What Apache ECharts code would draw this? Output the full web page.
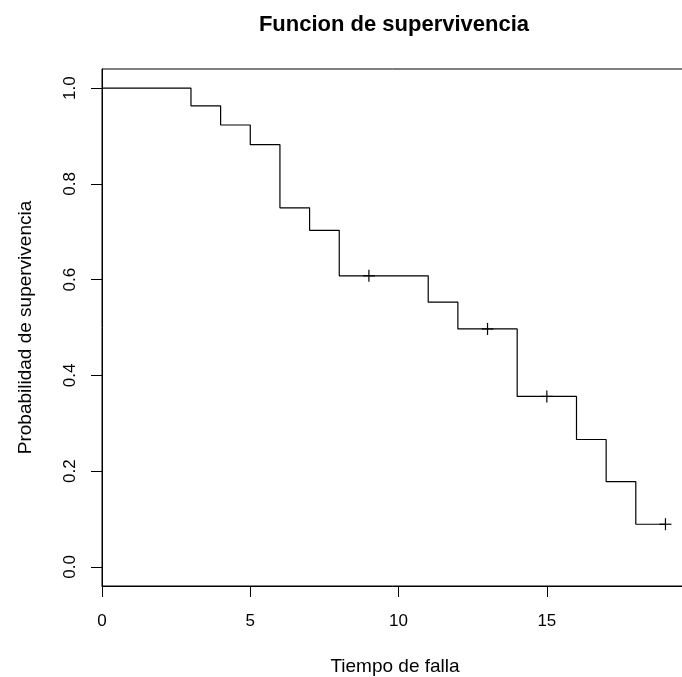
<!DOCTYPE html>
<html>
<head>
<meta charset="utf-8">
<script src="https://cdn.jsdelivr.net/npm/echarts@6/dist/echarts.min.js"></script>
<style>
  html, body { margin: 0; padding: 0; background: #ffffff; }
  #chart { width: 682px; height: 677px; }
</style>
</head>
<body>
<div id="chart"></div>
<script>
// Kaplan-Meier estimate: step start times and survival after each step
const stepTimes = [0, 3, 4, 5, 6, 7, 8, 11, 12, 14, 16, 17, 18, 19];
const survival  = [1.0, 0.963, 0.923, 0.882, 0.750, 0.703, 0.608, 0.553, 0.497, 0.356, 0.266, 0.178, 0.089, 0.089];

// Censored observations (time, survival at that time)
const censorTimes = [9, 13, 15, 19];
const censorSurv  = [0.608, 0.497, 0.356, 0.089];

// Axis tick labels
const xTicks = [0, 5, 10, 15];
const yTicks = [0, 0.2, 0.4, 0.6, 0.8, 1.0];

const FONT = '"Liberation Sans", Arial, Helvetica, sans-serif';

const stepData = stepTimes.map((t, i) => [t, survival[i]]);
const censorData = censorTimes.map((t, i) => [t, censorSurv[i]]);

const chart = echarts.init(document.getElementById('chart'), null, { renderer: 'canvas' });

chart.setOption({
  animation: false,
  backgroundColor: '#ffffff',
  graphic: [{
    type: 'text',
    x: 394,
    y: 25,
    style: {
      text: 'Funcion de supervivencia',
      font: 'bold 22px ' + FONT,
      fill: '#000',
      textAlign: 'center',
      textVerticalAlign: 'middle'
    }
  }],
  grid: {
    left: 102, right: -6, top: 69, bottom: 91,
    outerBoundsMode: 'none',
    containLabel: false,
    show: true, borderColor: '#000', borderWidth: 1, backgroundColor: 'transparent'
  },
  xAxis: {
    type: 'value',
    min: 0, max: 19.76,
    name: 'Tiempo de falla',
    nameLocation: 'middle',
    nameGap: 71,
    nameTextStyle: { fontFamily: FONT, fontSize: 19, color: '#000' },
    axisLine: { show: true, onZero: false, lineStyle: { color: '#000', width: 1 } },
    axisTick: { show: true, inside: false, length: 11, customValues: xTicks, lineStyle: { color: '#000', width: 1 } },
    axisLabel: { customValues: xTicks, margin: 27, fontFamily: FONT, fontSize: 17, color: '#000' },
    splitLine: { show: false }
  },
  yAxis: {
    type: 'value',
    min: -0.04, max: 1.04,
    name: 'Probabilidad de supervivencia',
    nameLocation: 'middle',
    nameGap: 67,
    nameTextStyle: { fontFamily: FONT, fontSize: 19, color: '#000' },
    axisLine: { show: true, onZero: false, lineStyle: { color: '#000', width: 1 } },
    axisTick: { show: true, inside: false, length: 11, customValues: yTicks, lineStyle: { color: '#000', width: 1 } },
    axisLabel: {
      customValues: yTicks, rotate: 90, margin: 23,
      fontFamily: FONT, fontSize: 17, color: '#000',
      formatter: v => v.toFixed(1)
    },
    splitLine: { show: false }
  },
  series: [
    {
      type: 'line',
      data: stepData,
      step: 'end',
      showSymbol: false,
      lineStyle: { color: '#000', width: 1.2 },
      clip: true
    },
    {
      type: 'custom',
      data: censorData,
      renderItem: function (params, api) {
        const p = api.coord([api.value(0), api.value(1)]);
        const h = 6;
        const style = { stroke: '#000', lineWidth: 1.2 };
        return {
          type: 'group',
          children: [
            { type: 'line', shape: { x1: p[0] - h, y1: p[1], x2: p[0] + h, y2: p[1] }, style: style },
            { type: 'line', shape: { x1: p[0], y1: p[1] - h, x2: p[0], y2: p[1] + h }, style: style }
          ]
        };
      }
    }
  ]
});
</script>
</body>
</html>
